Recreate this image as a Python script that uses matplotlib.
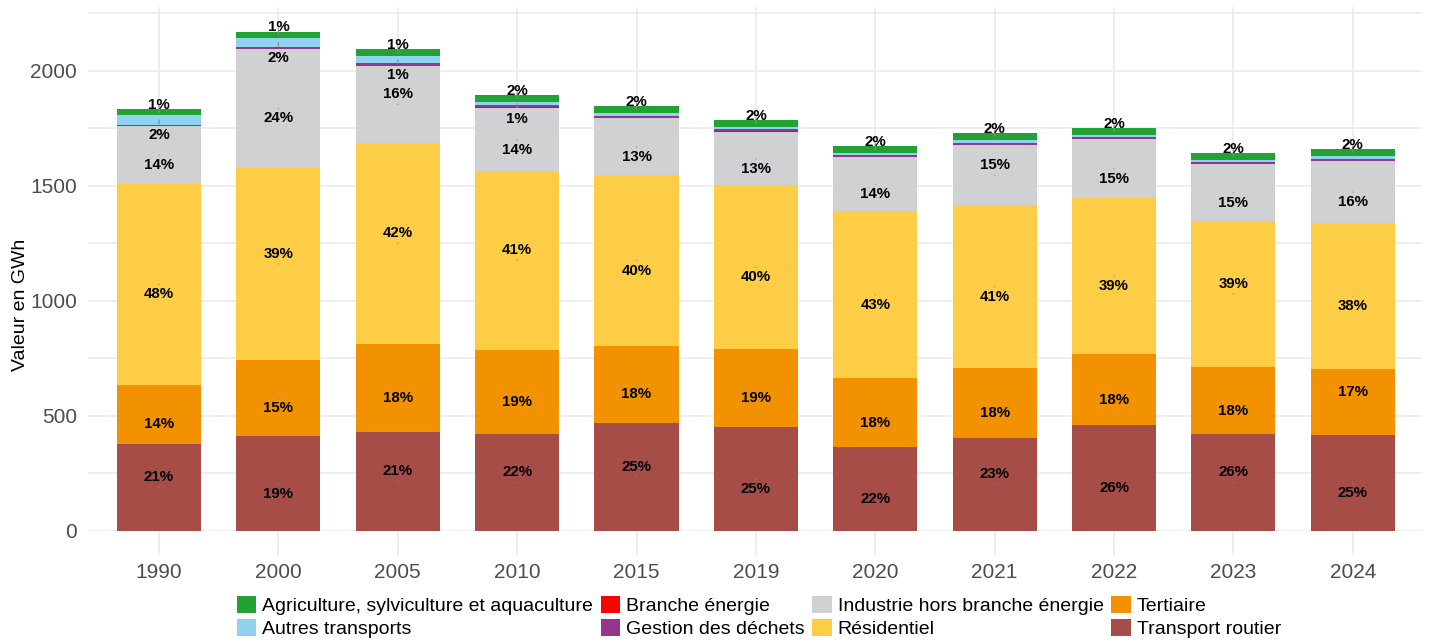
import numpy as np
import matplotlib
matplotlib.use("Agg")
import matplotlib.pyplot as plt
from matplotlib.patches import Patch

plt.rcParams['font.family'] = ['Liberation Sans', 'DejaVu Sans']

years = ["1990", "2000", "2005", "2010", "2015", "2019", "2020", "2021", "2022", "2023", "2024"]

# valeurs en GWh
transport_routier = [380, 412, 430, 422, 470, 452, 365, 404, 461, 422, 417]
tertiaire = [255, 330, 383, 365, 335, 339, 300, 304, 309, 291, 287]
residentiel = [875, 836, 874, 778, 743, 713, 725, 709, 678, 636, 635]
industrie = [250, 519, 335, 272, 247, 230, 235, 261, 257, 245, 270]
branche_energie = [0, 0, 0, 5, 0, 4, 0, 0, 0, 0, 0]
gestion_dechets = [7, 8, 12, 8, 10, 10, 9, 10, 9, 12, 10]
autres_transports = [40, 39, 30, 16, 12, 7, 8, 11, 8, 8, 11]
agriculture = [26, 26, 30, 30, 30, 30, 30, 30, 30, 30, 30]

series = [
    ("Transport routier", transport_routier, "#a64d48"),
    ("Tertiaire", tertiaire, "#f29200"),
    ("Résidentiel", residentiel, "#fecd46"),
    ("Industrie hors branche énergie", industrie, "#d0d1d3"),
    ("Branche énergie", branche_energie, "#ff0000"),
    ("Gestion des déchets", gestion_dechets, "#93368c"),
    ("Autres transports", autres_transports, "#8fd3f0"),
    ("Agriculture, sylviculture et aquaculture", agriculture, "#22a232"),
]

# sens du décalage des étiquettes (comme un "repel"), +1 vers le bas, -1 vers le haut
label_dir = {
    "Transport routier": [-1, 1, -1, -1, -1, 1, 1, -1, 1, -1, 1],
    "Tertiaire": [1, 1, 1, 1, 1, 1, 1, 1, 1, 1, -1],
    "Résidentiel": [1, -1, -1, -1, 1, 1, 1, 1, 1, -1, 1],
    "Industrie hors branche énergie": [1, 1, -1, 1, 1, 1, 1, -1, 1, 1, 1],
}

x = np.arange(len(years))
totals = np.sum([s[1] for s in series], axis=0)

fig = plt.figure(figsize=(14.29, 6.44), dpi=100)
ax = fig.add_axes([88 / 1429, 1 - 531 / 644, (1422 - 88) / 1429, (531 - 7) / 644])

lead = dict(arrowstyle="-", color="#8c8c8c", lw=0.8, shrinkA=1, shrinkB=0)
bottom = np.zeros(len(years))
for name, vals, color in series:
    vals = np.array(vals, dtype=float)
    ax.bar(x, vals, width=0.705, bottom=bottom, color=color, zorder=3)
    for i in range(len(years)):
        pct = vals[i] / totals[i] * 100
        if pct < 0.8:
            continue
        mid = bottom[i] + vals[i] / 2
        if name.startswith("Agriculture"):
            dy = 5.5
        elif name == "Autres transports":
            dy = -11
        else:
            dy = -7.3 * label_dir[name][i]
        ax.annotate(f"{pct:.0f}%", (x[i], mid), xytext=(0, dy), textcoords="offset points",
                    ha="center", va="center", fontsize=10.8, fontweight="bold",
                    arrowprops=lead, zorder=5)
    bottom += vals

ax.set_xlim(-0.595, 10.58)
ax.set_ylim(0, 2278)
ax.set_yticks([0, 500, 1000, 1500, 2000])
ax.set_yticks([250, 750, 1250, 1750, 2250], minor=True)
ax.set_xticks(x)
ax.set_xticklabels(years)
ax.grid(True, which="both", axis="y", color="#ebebeb", linewidth=1.2, zorder=0)
ax.grid(True, axis="x", color="#ebebeb", linewidth=1.2, zorder=0)
for sp in ax.spines.values():
    sp.set_visible(False)
ax.tick_params(axis="x", length=17, width=1.2, color="#ebebeb", labelsize=15, labelcolor="#4d4d4d", pad=6)
ax.tick_params(axis="y", which="both", length=0, labelsize=15, labelcolor="#4d4d4d", pad=8)
ax.set_ylabel("Valeur en GWh", fontsize=14, color="black")
ax.yaxis.set_label_coords(-0.044, 0.431)

handles = [Patch(facecolor=c, label=n) for n, _, c in series]
order = [7, 6, 4, 5, 3, 2, 1, 0]
handles = [handles[i] for i in order]
fig.legend(handles=handles, loc="center", bbox_to_anchor=(0.531, 0.042), ncol=4,
           frameon=False, fontsize=14, handlelength=1.0, handleheight=1.0,
           handletextpad=0.3, columnspacing=0.4, labelspacing=0.2, borderpad=0)

fig.savefig("out.png", dpi=100)
